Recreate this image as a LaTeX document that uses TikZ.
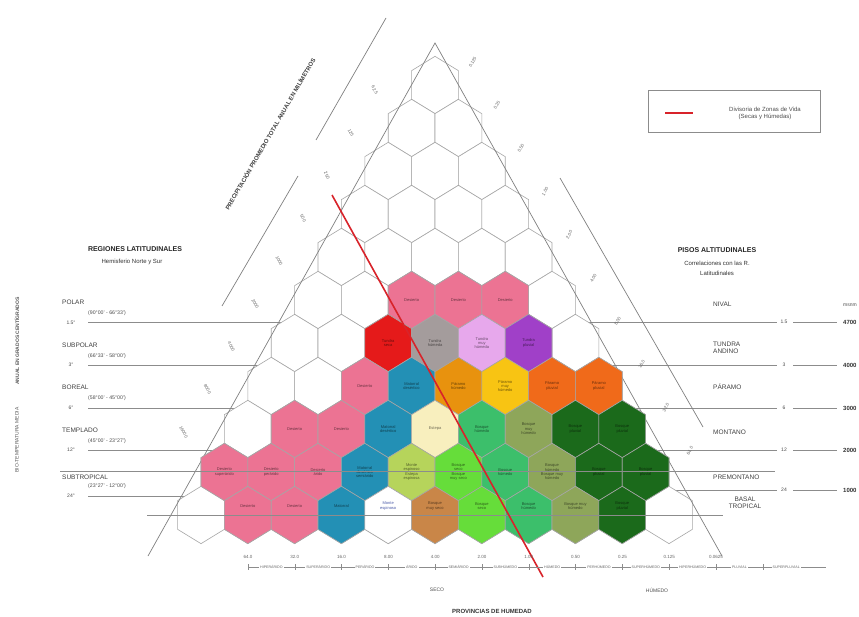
\documentclass[tikz,border=0pt]{standalone}
\usepackage{fontspec}
\setmainfont{Liberation Sans}
\definecolor{zpink}{HTML}{EC7393}
\definecolor{zred}{HTML}{E51A1A}
\definecolor{zgray}{HTML}{A49C9C}
\definecolor{zlilac}{HTML}{E7A8EC}
\definecolor{zpurple}{HTML}{A040C8}
\definecolor{zteal}{HTML}{2390B5}
\definecolor{zorangeA}{HTML}{E8920E}
\definecolor{zyellow}{HTML}{F8C413}
\definecolor{zorangeB}{HTML}{F06A1A}
\definecolor{zcream}{HTML}{F8EFBE}
\definecolor{zgreen}{HTML}{3CBF6B}
\definecolor{zolive}{HTML}{8EA65A}
\definecolor{zdkgreen}{HTML}{1B6A1B}
\definecolor{zygreen}{HTML}{B6D45B}
\definecolor{zlgreen}{HTML}{66DD3A}
\definecolor{zbrown}{HTML}{C98648}
\definecolor{tblue}{HTML}{4A5AA8}
\definecolor{redline}{HTML}{D8232A}
\tikzset{
  hexcell/.style={draw=black!35, line width=0.6pt, fill=white},
  hextext/.style={font=\fontsize{4}{4.4}\selectfont, align=center, inner sep=0pt},
  gline/.style={draw=black!45, line width=0.5pt},
  lab/.style={font=\fontsize{6.5}{7.5}\selectfont, inner sep=0pt, text=black!75},
  rng/.style={font=\fontsize{5.2}{6}\selectfont, inner sep=0pt, text=black!70, anchor=west},
  tval/.style={font=\fontsize{5}{6}\selectfont, inner sep=0pt, text=black!70},
  hdr/.style={font=\bfseries\fontsize{7}{8}\selectfont, inner sep=0pt, text=black!85},
  subhdr/.style={font=\fontsize{6}{7}\selectfont, inner sep=0pt, text=black!80, align=center},
  axlbl/.style={font=\fontsize{4.5}{5}\selectfont, inner sep=0.5pt, text=black!60},
  barlbl/.style={font=\fontsize{3.6}{4}\selectfont, inner sep=1pt, fill=white, text=black!60},
}
\newcommand{\hexat}[3]{\path[hexcell,#3] (#1,#2) ++(0,-28.67) -- ++(23.4,14.33) -- ++(0,28.67) -- ++(-23.4,14.33) -- ++(-23.4,-14.33) -- ++(0,-28.67) -- cycle;}
\newcommand{\zv}[6][]{%
  \pgfmathsetmacro\hx{435+(#3-(#2-1)/2)*46.8}%
  \pgfmathsetmacro\hy{85+(#2-1)*43}%
  \hexat{\hx}{\hy}{fill=#4}%
  \node[hextext, text=#4!45!black, #1] (#5) at (\hx,\hy) {#6};%
}
\begin{document}
\begin{tikzpicture}[x=1pt,y=-1pt]
\useasboundingbox (0,0) rectangle (859,617);
\fill[white] (0,0) rectangle (859,617);

% horizontal biotemperature lines (behind)
\draw[gline] (88,322) -- (777,322);
\draw[gline] (88,365) -- (777,365);
\draw[gline] (88,408) -- (777,408);
\draw[gline] (88,450) -- (777,450);
\draw[gline] (88,496) -- (435,496);
\draw[gline] (435,490) -- (777,490);

% white hexagon grid
\foreach \r in {1,...,11}{%
  \pgfmathtruncatemacro\kmax{\r-1}%
  \foreach \k in {0,...,\kmax}{%
    \pgfmathsetmacro\hx{435+(\k-(\r-1)/2)*46.8}%
    \pgfmathsetmacro\hy{85+(\r-1)*43}%
    \hexat{\hx}{\hy}{}%
  }%
}

% triangle sides and outer axis lines
\draw[line width=0.7pt, draw=black!50] (148,556) -- (435,43) -- (722,556);
\draw[line width=0.7pt, draw=black!50] (386,18) -- (316,140);
\draw[line width=0.7pt, draw=black!50] (298,176) -- (222,306);
\draw[line width=0.7pt, draw=black!50] (560,178) -- (703,427);

% life zone hexagons
\zv{6}{2}{zpink}{h62}{Desierto}
\zv{6}{3}{zpink}{h63}{Desierto}
\zv{6}{4}{zpink}{h64}{Desierto}
\zv{7}{2}{zred}{h72}{Tundra\\seca}
\zv{7}{3}{zgray}{h73}{Tundra\\húmeda}
\zv{7}{4}{zlilac}{h74}{Tundra\\muy\\húmeda}
\zv{7}{5}{zpurple}{h75}{Tundra\\pluvial}
\zv{8}{2}{zpink}{h82}{Desierto}
\zv{8}{3}{zteal}{h83}{Matorral\\desértico}
\zv{8}{4}{zorangeA}{h84}{Páramo\\húmedo}
\zv{8}{5}{zyellow}{h85}{Páramo\\muy\\húmedo}
\zv{8}{6}{zorangeB}{h86}{Páramo\\pluvial}
\zv{8}{7}{zorangeB}{h87}{Páramo\\pluvial}
\zv{9}{1}{zpink}{h91}{Desierto}
\zv{9}{2}{zpink}{h92}{Desierto}
\zv{9}{3}{zteal}{h93}{Matorral\\desértico}
\zv{9}{4}{zcream}{h94}{Estepa}
\zv{9}{5}{zgreen}{h95}{Bosque\\húmedo}
\zv{9}{6}{zolive}{h96}{Bosque\\muy\\húmedo}
\zv{9}{7}{zdkgreen}{h97}{Bosque\\pluvial}
\zv{9}{8}{zdkgreen}{h98}{Bosque\\pluvial}
\zv{10}{0}{zpink}{h100}{Desierto\\superárido}
\zv{10}{1}{zpink}{h101}{Desierto\\perárido}
\zv{10}{2}{zpink}{h102}{Desierto\\árido}
\zv{10}{3}{zteal}{h103}{Matorral\\desértico\\semiárido}
\zv{10}{4}{zygreen}{h104}{Monte\\espinoso\\Estepa\\espinosa}
\zv{10}{5}{zlgreen}{h105}{Bosque\\seco\\Bosque\\muy seco}
\zv{10}{6}{zgreen}{h106}{Bosque\\húmedo}
\zv{10}{7}{zolive}{h107}{Bosque\\húmedo\\Bosque muy\\húmedo}
\zv{10}{8}{zdkgreen}{h108}{Bosque\\pluvial}
\zv{10}{9}{zdkgreen}{h109}{Bosque\\pluvial}
\zv[yshift=9pt]{11}{1}{zpink}{h111}{Desierto}
\zv[yshift=9pt]{11}{2}{zpink}{h112}{Desierto}
\zv[yshift=9pt]{11}{3}{zteal}{h113}{Matorral}
\zv[yshift=9pt,text=tblue]{11}{4}{white}{h114}{Monte\\espinoso}
\zv[yshift=9pt]{11}{5}{zbrown}{h115}{Bosque\\muy seco}
\zv[yshift=9pt]{11}{6}{zlgreen}{h116}{Bosque\\seco}
\zv[yshift=9pt]{11}{7}{zgreen}{h117}{Bosque\\húmedo}
\zv[yshift=9pt]{11}{8}{zolive}{h118}{Bosque muy\\húmedo}
\zv[yshift=9pt]{11}{9}{zdkgreen}{h119}{Bosque\\pluvial}

% lines over the hexagons
\draw[gline] (60,471) -- (775,471);
\draw[gline] (147,515) -- (723,515);

% dry / humid divide
\draw[redline, line width=1.6pt] (332,195) -- (543,577);

% axis labels along the triangle
\foreach \v [count=\j from 0] in {62.5,125,250,500,1000,2000,4000,8000,16000}{%
  \pgfmathsetmacro\ly{90+42.75*\j}%
  \pgfmathsetmacro\lx{435-0.559*(\ly-43)-34}%
  \node[axlbl, rotate=-61] (pl\j) at (\lx,\ly) {\v};
}
\foreach \v [count=\j from 0] in {0.125,0.25,0.50,1.00,2.00,4.00,8.00,16.0,32.0,64.0}{%
  \pgfmathsetmacro\ly{62+43.2*\j}%
  \pgfmathsetmacro\lx{435+0.559*(\ly-43)+27}%
  \node[axlbl, rotate=61] (pr\j) at (\lx,\ly) {\v};
}
\node[font=\bfseries\fontsize{6}{7}\selectfont, rotate=60, text=black!75, inner sep=0pt] (ptitle) at (270,134) {PRECIPITACIÓN PROMEDIO TOTAL ANUAL EN MILÍMETROS};
\node[font=\fontsize{5}{6}\selectfont, rotate=90, text=black!65, inner sep=0pt] (bt1) at (17,440) {BIO-TEMPERATURA MEDIA};
\node[font=\bfseries\fontsize{5}{6}\selectfont, rotate=90, text=black!65, inner sep=0pt] (bt2) at (17,341) {ANUAL EN GRADOS CENTÍGRADOS};

% left: latitudinal regions
\node[hdr] (hdrL) at (135,249) {REGIONES LATITUDINALES};
\node[subhdr] (hdrL2) at (132,262) {Hemisferio Norte y Sur};
\node[lab, anchor=west] (rPol) at (62,302) {POLAR};
\node[rng] (gPol) at (88,313) {(90°00' - 66°33')};
\node[tval] (tPol) at (71,323) {1.5°};
\node[lab, anchor=west] (rSub) at (62,345) {SUBPOLAR};
\node[rng] (gSub) at (88,356) {(66°33' - 58°00')};
\node[tval] (tSub) at (71,365) {3°};
\node[lab, anchor=west] (rBor) at (62,387) {BOREAL};
\node[rng] (gBor) at (88,398) {(58°00' - 45°00')};
\node[tval] (tBor) at (71,408) {6°};
\node[lab, anchor=west] (rTem) at (62,430) {TEMPLADO};
\node[rng] (gTem) at (88,441) {(45°00' - 23°27')};
\node[tval] (tTem) at (71,450) {12°};
\node[lab, anchor=west] (rStr) at (62,477) {SUBTROPICAL};
\node[rng] (gStr) at (88,486) {(23°27' - 12°00')};
\node[tval] (tStr) at (71,496) {24°};

% right: altitudinal belts
\node[hdr] (hdrR) at (717,250) {PISOS ALTITUDINALES};
\node[subhdr] (hdrR2) at (717,263) {Correlaciones con las R.};
\node[subhdr] (hdrR3) at (717,273) {Latitudinales};
\node[lab, anchor=west] (pNiv) at (713,304) {NIVAL};
\node[lab, anchor=west, align=left] (pTun) at (713,348) {TUNDRA\\ANDINO};
\node[lab, anchor=west] (pPar) at (713,387) {PÁRAMO};
\node[lab, anchor=west] (pMon) at (713,432) {MONTANO};
\node[lab, anchor=west] (pPre) at (713,477) {PREMONTANO};
\node[lab, align=center] (pBas) at (745,503) {BASAL\\TROPICAL};
\node[tval, anchor=west] (msnm) at (843,305) {msnm};
\foreach \yy/\tv/\av [count=\j] in {322/1.5/4700,365/3/4000,408/6/3000,450/12/2000,490/24/1000}{%
  \node[tval] (rv\j) at (784,\yy) {\tv};
  \draw[gline] (793,\yy) -- (837,\yy);
  \node[font=\bfseries\fontsize{6}{7}\selectfont, inner sep=0pt, anchor=west, text=black!80] (ra\j) at (843,\yy) {\av};
}

% legend
\draw[draw=black!45, line width=0.6pt] (648,90) rectangle (820,132);
\draw[redline, line width=1.6pt] (665,113) -- (693,113);
\node[subhdr, text=black!70] (legtxt) at (765,113) {Divisoria de Zonas de Vida\\(Secas y Húmedas)};

% bottom axis
\foreach \v [count=\j from 0] in {64.0,32.0,16.0,8.00,4.00,2.00,1.00,0.50,0.25,0.125,0.0625}{%
  \node[axlbl] (bn\j) at ({248+46.8*\j},557) {\v};
}
\draw[gline] (248,567) -- (826,567);
\foreach \j in {0,...,11}{\draw[gline] ({248+46.8*\j},564) -- ({248+46.8*\j},570);}
\foreach \v [count=\j from 0] in {HIPERÁRIDO,SUPERÁRIDO,PERÁRIDO,ÁRIDO,SEMIÁRIDO,SUBHÚMEDO,HÚMEDO,PERHÚMEDO,SUPERHÚMEDO,HIPERHÚMEDO,PLUVIAL,SUPERPLUVIAL}{%
  \node[barlbl] (bb\j) at ({271.4+46.8*\j},567) {\v};
}
\node[tval] (seco) at (437,590) {SECO};
\node[tval] (humedo) at (657,590) {HÚMEDO};
\node[font=\bfseries\fontsize{6}{7}\selectfont, inner sep=0pt, text=black!80] (prov) at (492,611) {PROVINCIAS DE HUMEDAD};
\end{tikzpicture}
\end{document}
